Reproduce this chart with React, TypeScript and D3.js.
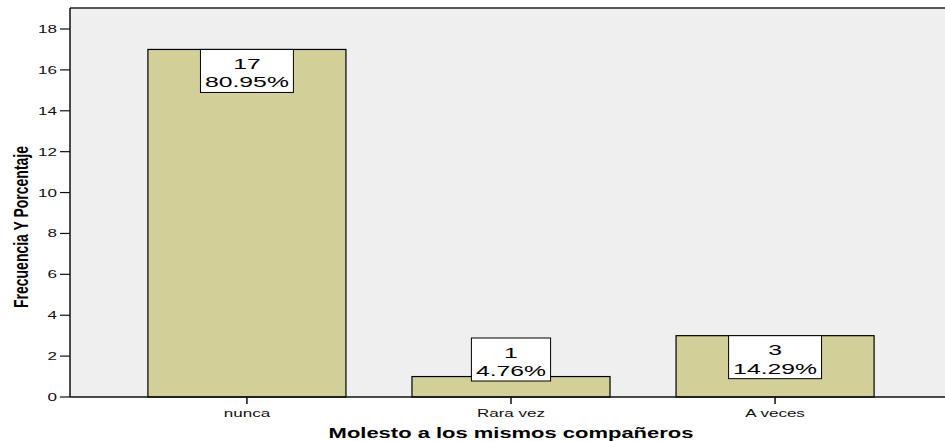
import * as d3 from 'd3';
import React, { useEffect, useRef } from 'react';

const categories = ['nunca', 'Rara vez', 'A veces'];
const counts = [17, 1, 3];
const percents = ['80.95%', '4.76%', '14.29%'];
const yTicks = [0, 2, 4, 6, 8, 10, 12, 14, 16, 18];

const xTitle = 'Molesto a los mismos compañeros';
const yTitle = 'Frecuencia Y Porcentaje';

const W = 945;
const H = 442;
const margin = { top: 8, left: 70, bottom: 45 };
const plotRight = 952;
const stretch = 1.55;
const boxStretch = 1.65;
const FONT = 'Arial, "Liberation Sans", Helvetica, sans-serif';

const App: React.FC = () => {
  const svgRef = useRef<SVGSVGElement | null>(null);

  useEffect(() => {
    if (!svgRef.current) return;
    const svg = d3.select(svgRef.current);
    svg.selectAll('*').remove();

    const bottom = H - margin.bottom; // 397
    const y = d3.scaleLinear().domain([0, 18]).range([bottom, 29]);
    const x = d3
      .scaleBand<string>()
      .domain(categories)
      .range([margin.left, plotRight])
      .paddingInner(0.25)
      .paddingOuter(0.295);

    const ctx = document.createElement('canvas').getContext('2d')!;
    const measure = (t: string, size: number, weight = 'normal') => {
      ctx.font = `${weight} ${size}px Arial, "Liberation Sans", sans-serif`;
      return ctx.measureText(t).width * boxStretch;
    };

    // plot background
    svg.append('rect')
      .attr('x', margin.left)
      .attr('y', margin.top)
      .attr('width', plotRight - margin.left)
      .attr('height', bottom - margin.top)
      .attr('fill', '#efefef');

    svg.append('line')
      .attr('x1', margin.left).attr('x2', plotRight)
      .attr('y1', margin.top).attr('y2', margin.top)
      .attr('stroke', '#222').attr('stroke-width', 1.5);

    // bars
    svg.selectAll('.bar')
      .data(categories)
      .enter()
      .append('rect')
      .attr('class', 'bar')
      .attr('x', (d) => x(d)!)
      .attr('y', (d, i) => y(counts[i]))
      .attr('width', x.bandwidth())
      .attr('height', (d, i) => bottom - y(counts[i]))
      .attr('fill', '#d3cf98')
      .attr('stroke', '#000')
      .attr('stroke-width', 1.2);

    // axes lines
    svg.append('line')
      .attr('x1', margin.left).attr('x2', margin.left)
      .attr('y1', margin.top).attr('y2', bottom)
      .attr('stroke', '#111').attr('stroke-width', 1.5);
    svg.append('line')
      .attr('x1', margin.left).attr('x2', plotRight)
      .attr('y1', bottom).attr('y2', bottom)
      .attr('stroke', '#111').attr('stroke-width', 1.5);

    // y ticks
    yTicks.forEach((t) => {
      svg.append('line')
        .attr('x1', margin.left - 10).attr('x2', margin.left)
        .attr('y1', y(t)).attr('y2', y(t))
        .attr('stroke', '#111').attr('stroke-width', 1.2);
      svg.append('text')
        .attr('transform', `translate(${margin.left - 13},${y(t) + 4}) scale(${stretch},1)`)
        .attr('text-anchor', 'end')
        .attr('font-family', FONT)
        .attr('font-size', 11)
        .attr('fill', '#111')
        .text(t);
    });

    // x ticks
    categories.forEach((c) => {
      const cx = x(c)! + x.bandwidth() / 2;
      svg.append('line')
        .attr('x1', cx).attr('x2', cx)
        .attr('y1', bottom).attr('y2', bottom + 7)
        .attr('stroke', '#111').attr('stroke-width', 1.5);
      svg.append('text')
        .attr('transform', `translate(${cx},${bottom + 20}) scale(${stretch},1)`)
        .attr('text-anchor', 'middle')
        .attr('font-family', FONT)
        .attr('font-size', 11)
        .attr('fill', '#111')
        .text(c);
    });

    // value labels
    categories.forEach((c, i) => {
      const cx = x(c)! + x.bandwidth() / 2;
      const lines = [String(counts[i]), percents[i]];
      const bw = d3.max(lines, (l) => measure(l, 15))! + 9;
      const bh = 43;
      const top = Math.min(y(counts[i]), bottom - 59);
      svg.append('rect')
        .attr('x', cx - bw / 2)
        .attr('y', top)
        .attr('width', bw)
        .attr('height', bh)
        .attr('fill', '#fff')
        .attr('stroke', '#000')
        .attr('stroke-width', 1);
      lines.forEach((l, j) => {
        svg.append('text')
          .attr('transform', `translate(${cx},${top + 19.5 + j * 18.5}) scale(${boxStretch},1)`)
          .attr('text-anchor', 'middle')
          .attr('font-family', FONT)
          .attr('font-size', 15)
          .attr('fill', '#000')
          .text(l);
      });
    });

    // titles
    svg.append('text')
      .attr('transform', `translate(${(margin.left + plotRight) / 2},${438}) scale(1.57,1)`)
      .attr('text-anchor', 'middle')
      .attr('font-family', FONT)
      .attr('font-weight', 'bold')
      .attr('font-size', 14)
      .attr('fill', '#000')
      .text(xTitle);

    svg.append('text')
      .attr('transform', `translate(28,227) scale(1.5,1) rotate(-90)`)
      .attr('text-anchor', 'middle')
      .attr('font-family', FONT)
      .attr('font-weight', 'bold')
      .attr('font-size', 14)
      .attr('fill', '#000')
      .text(yTitle);
  }, []);

  return (
    <svg
      ref={svgRef}
      width={W}
      height={H}
      style={{ position: 'absolute', left: 0, top: 0, background: '#fff' }}
    />
  );
};

export default App;
